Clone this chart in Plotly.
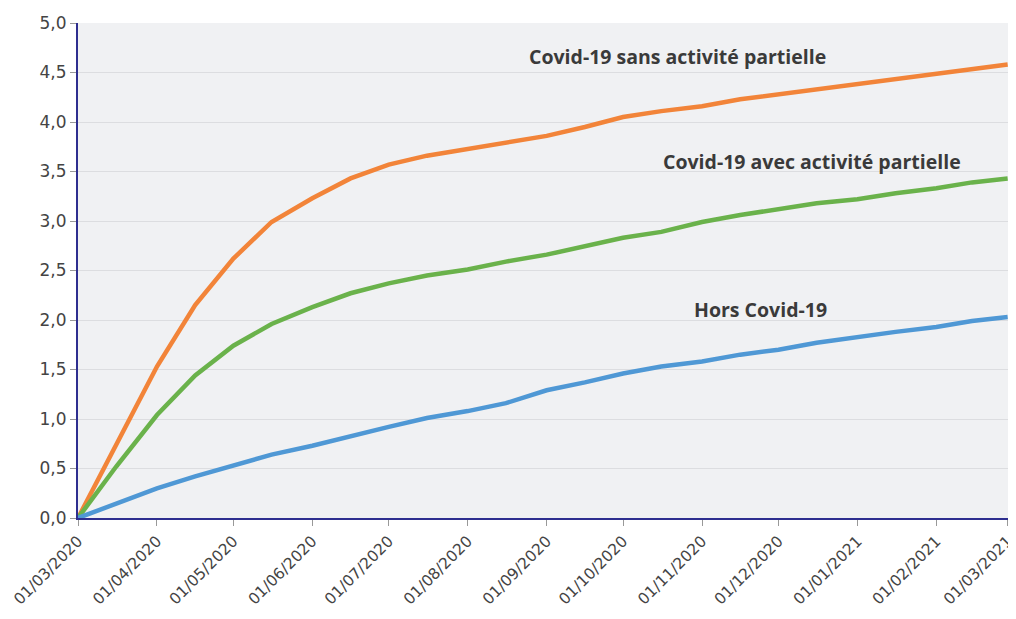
import plotly.graph_objects as go

dates = [
    "2020-03-01", "2020-03-16", "2020-04-01", "2020-04-16", "2020-05-01", "2020-05-16",
    "2020-06-01", "2020-06-16", "2020-07-01", "2020-07-16", "2020-08-01", "2020-08-16",
    "2020-09-01", "2020-09-16", "2020-10-01", "2020-10-16", "2020-11-01", "2020-11-16",
    "2020-12-01", "2020-12-16", "2021-01-01", "2021-01-16", "2021-02-01", "2021-02-15",
    "2021-03-01",
]

sans_ap = [0.00, 0.75, 1.53, 2.15, 2.62, 2.99, 3.23, 3.43, 3.57, 3.66, 3.73, 3.80, 3.86,
           3.95, 4.05, 4.11, 4.16, 4.23, 4.28, 4.33, 4.38, 4.44, 4.49, 4.53, 4.58]
avec_ap = [0.00, 0.52, 1.04, 1.44, 1.74, 1.96, 2.13, 2.27, 2.37, 2.45, 2.51, 2.59, 2.66,
           2.74, 2.83, 2.89, 2.99, 3.06, 3.12, 3.18, 3.22, 3.28, 3.33, 3.39, 3.43]
hors = [0.00, 0.14, 0.30, 0.42, 0.53, 0.64, 0.73, 0.83, 0.92, 1.01, 1.08, 1.16, 1.29,
        1.37, 1.46, 1.53, 1.58, 1.65, 1.70, 1.77, 1.83, 1.88, 1.93, 1.99, 2.03]

series_names = ["Covid-19 sans activité partielle", "Covid-19 avec activité partielle", "Hors Covid-19"]
series_values = [sans_ap, avec_ap, hors]
series_colors = ["#f28439", "#6ab24b", "#4f98d5"]

tick_dates = ["2020-03-01", "2020-04-01", "2020-05-01", "2020-06-01", "2020-07-01", "2020-08-01",
              "2020-09-01", "2020-10-01", "2020-11-01", "2020-12-01", "2021-01-01", "2021-02-01",
              "2021-03-01"]
tick_labels = ["01/03/2020", "01/04/2020", "01/05/2020", "01/06/2020", "01/07/2020", "01/08/2020",
               "01/09/2020", "01/10/2020", "01/11/2020", "01/12/2020", "01/01/2021", "01/02/2021",
               "01/03/2021"]

label_pos = [("2020-10-22 12:00", 4.66), ("2020-12-14", 3.60), ("2020-11-24", 2.11)]

fig = go.Figure()
for name, vals, col in zip(series_names, series_values, series_colors):
    fig.add_trace(go.Scatter(x=dates, y=vals, mode="lines", name=name,
                             line=dict(color=col, width=4.5), cliponaxis=False))

for name, (lx, ly) in zip(series_names, label_pos):
    fig.add_annotation(x=lx, y=ly, text="<b>" + name + "</b>", showarrow=False,
                       font=dict(family="Open Sans", size=19.5, color="#3a3a3a"),
                       xanchor="center", yanchor="middle")

# The page body has an 8px margin: the figure is sized and offset to compensate.
fig.update_layout(
    width=1008, height=611,
    margin=dict(l=70, r=8, t=15, b=101),
    paper_bgcolor="white", plot_bgcolor="#f0f1f3",
    showlegend=False,
    separators=", ",
    font=dict(family="DejaVu Sans", color="#444444"),
)
fig.update_xaxes(
    type="date", range=["2020-03-01", "2021-03-01 03:00"],
    tickvals=tick_dates, ticktext=tick_labels, tickangle=-45,
    tickfont=dict(family="DejaVu Sans", size=15.5, color="#444444"),
    ticklabeloverflow="allow",
    showgrid=False, showline=True, linecolor="#2e2e8f", linewidth=2,
    ticks="outside", ticklen=6, tickcolor="#999999", zeroline=False,
    automargin=False,
)
fig.update_yaxes(
    range=[0, 5], dtick=0.5, tickformat=".1f",
    tickfont=dict(family="DejaVu Sans", size=17, color="#444444"),
    ticklabeloverflow="allow",
    showgrid=True, gridcolor="#dcdde0", gridwidth=1,
    showline=True, linecolor="#2e2e8f", linewidth=2,
    ticks="outside", ticklen=6, tickcolor="#999999", zeroline=False,
    automargin=False,
)

fig.write_html("out.html")
